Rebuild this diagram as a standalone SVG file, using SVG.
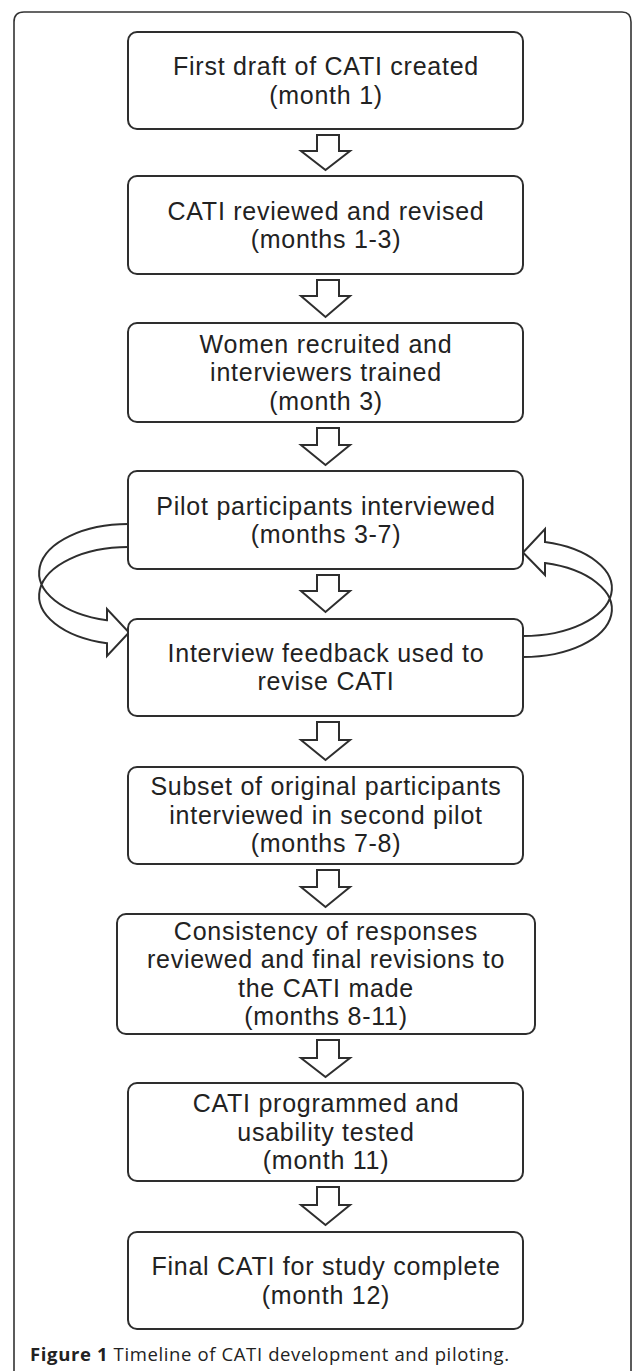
<svg xmlns="http://www.w3.org/2000/svg" width="633" height="1371" viewBox="0 0 633 1371">
<style>
.box{fill:#fff;stroke:#2e2e2e;stroke-width:2}
.t{font-size:25px;letter-spacing:0.75px;fill:#222;text-anchor:middle}
.arr{fill:#fff;stroke:#2e2e2e;stroke-width:2;stroke-linejoin:miter}
.cap{font-size:18.5px;fill:#222}
</style>
<rect width="633" height="1371" fill="#fff"/>
<path d="M14,1380 V22 Q14,12 24,12 H622 Q631,12 631,22 V1380" fill="none" stroke="#333" stroke-width="1.6"/>

<g id="connectors">
<path class="arr" d="M317,135 L339,135 L339,151 L350,151 L325.5,170 L301,151 L317,151 Z"/>
<path class="arr" d="M317,280 L339,280 L339,296 L350,296 L325.5,317 L301,296 L317,296 Z"/>
<path class="arr" d="M317,428 L339,428 L339,445 L350,445 L325.5,465 L301,445 L317,445 Z"/>
<path class="arr" d="M317,575 L339,575 L339,591 L350,591 L325.5,612 L301,591 L317,591 Z"/>
<path class="arr" d="M317,722 L339,722 L339,740 L350,740 L325.5,760 L301,740 L317,740 Z"/>
<path class="arr" d="M317,870 L339,870 L339,887 L350,887 L325.5,907 L301,887 L317,887 Z"/>
<path class="arr" d="M317,1040 L339,1040 L339,1058 L350,1058 L325.5,1077 L301,1058 L317,1058 Z"/>
<path class="arr" d="M317,1187 L339,1187 L339,1205 L350,1205 L325.5,1225 L301,1205 L317,1205 Z"/>
<path class="arr" d="M129,524 A89,48.8 0 0 0 107,620.2 L107,609 L129,632.5 L107,656 L107,643.2 A89,48.8 0 0 1 129,547"/>
<path class="arr" d="M523,636 A89,47.7 0 0 0 545,542.1 L545,529 L523,552.5 L545,575 L545,563.1 A89,47.7 0 0 1 523,657"/>
</g>

<g font-family="Liberation Sans, Arimo, Arial, sans-serif">
<g id="n1"><rect class="box" x="128" y="32" width="395" height="97" rx="9"/>
<text class="t" x="326" y="75">First draft of CATI created</text><text class="t" x="326" y="103.5">(month 1)</text></g>
<g id="n2"><rect class="box" x="128" y="176" width="395" height="98" rx="9"/>
<text class="t" x="326" y="219.5">CATI reviewed and revised</text><text class="t" x="326" y="248">(months 1-3)</text></g>
<g id="n3"><rect class="box" x="128" y="323" width="395" height="99" rx="9"/>
<text class="t" x="326" y="352.5">Women recruited and</text><text class="t" x="326" y="381">interviewers trained</text><text class="t" x="326" y="409.5">(month 3)</text></g>
<g id="n4"><rect class="box" x="128" y="471" width="395" height="98" rx="9"/>
<text class="t" x="326" y="514.5">Pilot participants interviewed</text><text class="t" x="326" y="543">(months 3-7)</text></g>
<g id="n5"><rect class="box" x="128" y="619" width="395" height="97" rx="9"/>
<text class="t" x="326" y="661.5">Interview feedback used to</text><text class="t" x="326" y="690">revise CATI</text></g>
<g id="n6"><rect class="box" x="128" y="767" width="395" height="97" rx="9"/>
<text class="t" x="326" y="795">Subset of original participants</text><text class="t" x="326" y="823.5">interviewed in second pilot</text><text class="t" x="326" y="852">(months 7-8)</text></g>
<g id="n7"><rect class="box" x="117" y="914" width="418" height="120" rx="9"/>
<text class="t" x="326" y="939.5">Consistency of responses</text><text class="t" x="326" y="968">reviewed and final revisions to</text><text class="t" x="326" y="996.5">the CATI made</text><text class="t" x="326" y="1025">(months 8-11)</text></g>
<g id="n8"><rect class="box" x="128" y="1083" width="395" height="98" rx="9"/>
<text class="t" x="326" y="1112">CATI programmed and</text><text class="t" x="326" y="1140.5">usability tested</text><text class="t" x="326" y="1169">(month 11)</text></g>
<g id="n9"><rect class="box" x="128" y="1232" width="395" height="97" rx="9"/>
<text class="t" x="326" y="1275">Final CATI for study complete</text><text class="t" x="326" y="1303.5">(month 12)</text></g>
</g>

<text class="cap" font-family="Open Sans, Noto Sans, sans-serif" x="30" y="1361" textLength="479" lengthAdjust="spacing"><tspan font-weight="bold">Figure 1</tspan> Timeline of CATI development and piloting.</text>
</svg>
